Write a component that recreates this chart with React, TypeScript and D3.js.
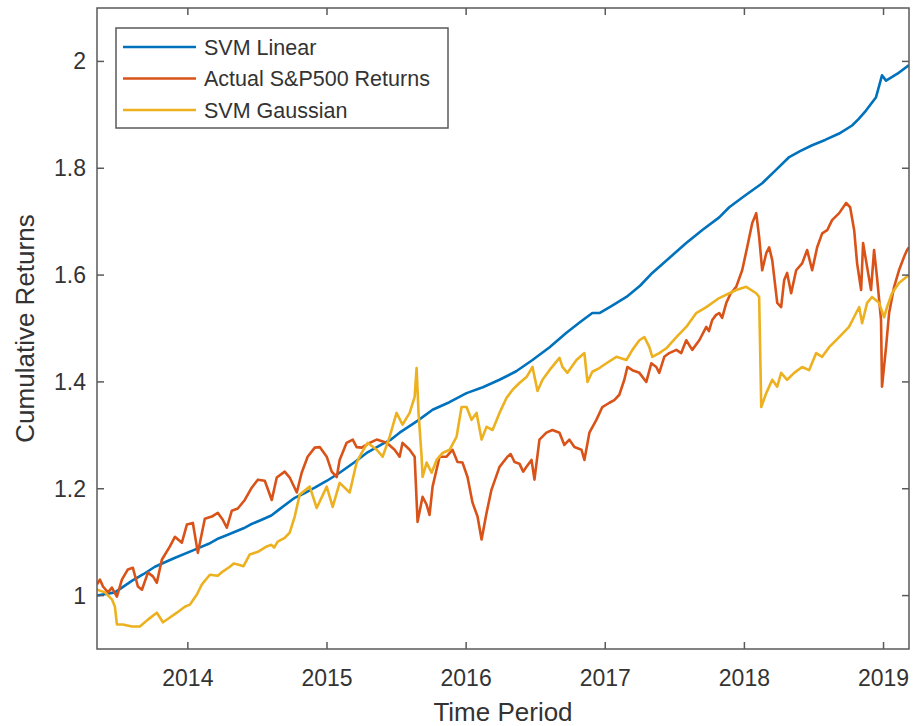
import React from "react";
import * as d3 from "d3";

// Series as [decimal year, cumulative return]
const SVM_LINEAR: [number, number][] = [
  [2013.347, 1.0], [2013.476, 1.006], [2013.6, 1.028], [2013.68, 1.04], [2013.763, 1.054], [2013.9, 1.07],
  [2014.05, 1.086], [2014.15, 1.097], [2014.22, 1.107], [2014.287, 1.114], [2014.4, 1.126], [2014.45, 1.133],
  [2014.531, 1.142], [2014.6, 1.15], [2014.65, 1.16], [2014.768, 1.183], [2014.84, 1.192], [2014.912, 1.202], [2015.0, 1.215],
  [2015.091, 1.23], [2015.2, 1.25], [2015.285, 1.267], [2015.4, 1.284], [2015.46, 1.292], [2015.522, 1.305],
  [2015.65, 1.327], [2015.759, 1.348], [2015.88, 1.362], [2016.003, 1.379], [2016.12, 1.39],
  [2016.24, 1.404], [2016.36, 1.42], [2016.477, 1.441], [2016.6, 1.465], [2016.721, 1.492],
  [2016.82, 1.512], [2016.907, 1.529], [2016.958, 1.529], [2017.05, 1.543], [2017.152, 1.559],
  [2017.25, 1.58], [2017.338, 1.604], [2017.46, 1.632], [2017.582, 1.66], [2017.7, 1.685],
  [2017.819, 1.708], [2017.891, 1.727], [2018.0, 1.748], [2018.128, 1.772], [2018.22, 1.795],
  [2018.322, 1.821], [2018.4, 1.832], [2018.487, 1.843], [2018.58, 1.853], [2018.681, 1.865],
  [2018.774, 1.88], [2018.82, 1.892], [2018.874, 1.908], [2018.946, 1.933], [2018.989, 1.974],
  [2019.018, 1.964], [2019.1, 1.977], [2019.183, 1.993],
];

const SP500_ACTUAL: [number, number][] = [
  [2013.347, 1.021], [2013.368, 1.03], [2013.39, 1.017], [2013.426, 1.006], [2013.454, 1.015],
  [2013.49, 0.998], [2013.526, 1.03], [2013.569, 1.049], [2013.605, 1.052], [2013.641, 1.017],
  [2013.67, 1.011], [2013.713, 1.043], [2013.749, 1.036], [2013.777, 1.024], [2013.813, 1.067],
  [2013.871, 1.092], [2013.907, 1.11], [2013.957, 1.099], [2013.993, 1.133], [2014.036, 1.136],
  [2014.072, 1.08], [2014.122, 1.144], [2014.172, 1.148], [2014.215, 1.155], [2014.251, 1.142],
  [2014.28, 1.127], [2014.316, 1.159], [2014.359, 1.163], [2014.409, 1.179], [2014.459, 1.202],
  [2014.503, 1.217], [2014.553, 1.215], [2014.603, 1.179], [2014.639, 1.221], [2014.696, 1.232],
  [2014.732, 1.221], [2014.783, 1.193], [2014.818, 1.23], [2014.861, 1.26], [2014.912, 1.277],
  [2014.948, 1.278], [2014.998, 1.26], [2015.034, 1.232], [2015.07, 1.222], [2015.091, 1.254],
  [2015.141, 1.286], [2015.185, 1.292], [2015.213, 1.278], [2015.249, 1.277], [2015.307, 1.286],
  [2015.357, 1.292], [2015.429, 1.286], [2015.486, 1.273], [2015.522, 1.26], [2015.543, 1.286],
  [2015.594, 1.273], [2015.63, 1.26], [2015.651, 1.138], [2015.687, 1.185], [2015.716, 1.17],
  [2015.737, 1.151], [2015.759, 1.204], [2015.809, 1.26], [2015.859, 1.26], [2015.902, 1.273],
  [2015.938, 1.25], [2015.974, 1.249], [2016.01, 1.222], [2016.046, 1.174], [2016.082, 1.148],
  [2016.111, 1.105], [2016.147, 1.155], [2016.182, 1.198], [2016.24, 1.241], [2016.297, 1.26],
  [2016.32, 1.265], [2016.348, 1.25], [2016.383, 1.247], [2016.41, 1.232], [2016.434, 1.241], [2016.47, 1.254], [2016.491, 1.217],
  [2016.527, 1.292], [2016.577, 1.305], [2016.62, 1.31], [2016.671, 1.305], [2016.706, 1.282],
  [2016.742, 1.292], [2016.778, 1.278], [2016.829, 1.273], [2016.85, 1.254], [2016.886, 1.305],
  [2016.936, 1.329], [2016.979, 1.353], [2017.03, 1.361], [2017.065, 1.366], [2017.101, 1.376],
  [2017.137, 1.404], [2017.159, 1.428], [2017.195, 1.422], [2017.245, 1.417], [2017.295, 1.4],
  [2017.331, 1.435], [2017.367, 1.428], [2017.388, 1.417], [2017.424, 1.447], [2017.46, 1.454],
  [2017.511, 1.46], [2017.546, 1.454], [2017.582, 1.478], [2017.625, 1.46], [2017.676, 1.478],
  [2017.726, 1.503], [2017.745, 1.495], [2017.769, 1.516], [2017.795, 1.525], [2017.819, 1.529], [2017.84, 1.52],
  [2017.87, 1.548], [2017.9, 1.565], [2017.941, 1.578],
  [2017.984, 1.609], [2018.02, 1.652], [2018.056, 1.697], [2018.085, 1.716], [2018.106, 1.671],
  [2018.128, 1.609], [2018.157, 1.641], [2018.178, 1.652], [2018.2, 1.628], [2018.236, 1.548],
  [2018.264, 1.54], [2018.286, 1.591], [2018.307, 1.604], [2018.336, 1.566], [2018.372, 1.609],
  [2018.415, 1.622], [2018.451, 1.647], [2018.487, 1.609], [2018.523, 1.652], [2018.559, 1.678],
  [2018.595, 1.684], [2018.63, 1.703], [2018.681, 1.716], [2018.731, 1.735], [2018.76, 1.727],
  [2018.789, 1.684], [2018.81, 1.622], [2018.839, 1.572], [2018.853, 1.66], [2018.882, 1.615],
  [2018.91, 1.572], [2018.932, 1.647], [2018.953, 1.596], [2018.982, 1.516], [2018.989, 1.391],
  [2019.018, 1.465], [2019.04, 1.529], [2019.076, 1.578], [2019.111, 1.609], [2019.147, 1.634],
  [2019.169, 1.647], [2019.183, 1.652],
];

const SVM_GAUSSIAN: [number, number][] = [
  [2013.347, 1.011], [2013.404, 1.006], [2013.454, 0.993], [2013.476, 0.979], [2013.49, 0.946],
  [2013.533, 0.946], [2013.598, 0.942], [2013.655, 0.942], [2013.713, 0.955], [2013.777, 0.968],
  [2013.821, 0.95], [2013.871, 0.959], [2013.921, 0.968], [2013.978, 0.979], [2014.014, 0.983],
  [2014.065, 1.002], [2014.101, 1.021], [2014.158, 1.039], [2014.215, 1.037], [2014.25, 1.045],
  [2014.302, 1.054], [2014.33, 1.06], [2014.359, 1.058], [2014.4, 1.055], [2014.445, 1.077],
  [2014.503, 1.082], [2014.567, 1.092], [2014.6, 1.095], [2014.62, 1.09], [2014.646, 1.101],
  [2014.696, 1.108], [2014.732, 1.118], [2014.768, 1.148], [2014.804, 1.189], [2014.876, 1.204],
  [2014.926, 1.164], [2014.998, 1.204], [2015.041, 1.166], [2015.091, 1.211], [2015.163, 1.193],
  [2015.213, 1.249], [2015.249, 1.267], [2015.292, 1.286], [2015.357, 1.273], [2015.4, 1.26],
  [2015.45, 1.297], [2015.5, 1.342], [2015.543, 1.32], [2015.594, 1.342], [2015.63, 1.372],
  [2015.644, 1.426], [2015.658, 1.342], [2015.68, 1.26], [2015.687, 1.222], [2015.716, 1.249],
  [2015.752, 1.23], [2015.788, 1.254], [2015.831, 1.267], [2015.881, 1.273], [2015.931, 1.297],
  [2015.967, 1.353], [2016.003, 1.353], [2016.039, 1.329], [2016.075, 1.342], [2016.111, 1.292],
  [2016.147, 1.316], [2016.19, 1.31], [2016.24, 1.342], [2016.29, 1.37], [2016.333, 1.385],
  [2016.383, 1.398], [2016.434, 1.409], [2016.477, 1.428], [2016.513, 1.383], [2016.549, 1.404],
  [2016.599, 1.422], [2016.671, 1.445], [2016.692, 1.428], [2016.728, 1.417], [2016.793, 1.441],
  [2016.85, 1.454], [2016.872, 1.4], [2016.907, 1.419], [2016.958, 1.426], [2017.008, 1.435],
  [2017.08, 1.447], [2017.152, 1.441], [2017.195, 1.46], [2017.245, 1.478], [2017.281, 1.484],
  [2017.317, 1.465], [2017.338, 1.447], [2017.388, 1.454], [2017.439, 1.463], [2017.511, 1.484],
  [2017.582, 1.503], [2017.654, 1.529], [2017.726, 1.54], [2017.819, 1.557], [2017.941, 1.572],
  [2018.013, 1.578], [2018.085, 1.566], [2018.106, 1.559], [2018.121, 1.353], [2018.157, 1.379],
  [2018.2, 1.404], [2018.236, 1.391], [2018.264, 1.417], [2018.307, 1.404], [2018.358, 1.417],
  [2018.415, 1.428], [2018.465, 1.422], [2018.516, 1.454], [2018.559, 1.447], [2018.609, 1.465],
  [2018.681, 1.484], [2018.752, 1.503], [2018.803, 1.529], [2018.825, 1.54], [2018.846, 1.51],
  [2018.882, 1.548], [2018.917, 1.559], [2018.968, 1.548], [2019.004, 1.521], [2019.025, 1.54],
  [2019.061, 1.566], [2019.111, 1.585], [2019.162, 1.596], [2019.183, 1.6],
];

const SERIES_NAMES = ["SVM Linear", "Actual S&P500 Returns", "SVM Gaussian"];
const SERIES_COLORS = ["#0072BD", "#D95319", "#EDB120"];
const YEAR_TICKS = [2014, 2015, 2016, 2017, 2018, 2019];
const VALUE_TICKS = [1, 1.2, 1.4, 1.6, 1.8, 2];
const X_DOMAIN = [2013.347, 2019.183];
const Y_DOMAIN = [0.9, 2.1];

const W = 917;
const H = 726;
const M = { left: 97, right: 8, top: 8, bottom: 77 };
const FONT = "'Liberation Sans', Arial, Helvetica, sans-serif";
const AXIS_COLOR = "#5a5a5a";
const TEXT_COLOR = "#333333";

export default function App() {
  const x = d3.scaleLinear().domain(X_DOMAIN).range([M.left, W - M.right]);
  const y = d3.scaleLinear().domain(Y_DOMAIN).range([H - M.bottom, M.top]);
  const line = d3
    .line<[number, number]>()
    .x((d) => x(d[0]))
    .y((d) => y(d[1]));

  const series = [SVM_LINEAR, SP500_ACTUAL, SVM_GAUSSIAN];
  const x0 = M.left;
  const x1 = W - M.right;
  const y0 = H - M.bottom;
  const y1 = M.top;
  const tickLen = 7;

  const legend = { x: 116, y: 28, w: 332, h: 100, row: 31.5 };

  return (
    <svg
      width={W}
      height={H}
      style={{ position: "absolute", left: 0, top: 0, background: "#fff" }}
      fontFamily={FONT}
    >
      <defs>
        <clipPath id="plot-area">
          <rect x={x0} y={y1} width={x1 - x0} height={y0 - y1} />
        </clipPath>
      </defs>
      <rect x={0} y={0} width={W} height={H} fill="#fff" />

      <g clipPath="url(#plot-area)" fill="none" strokeWidth={2.6} strokeLinejoin="round">
        {series.map((s, i) => (
          <path key={i} d={line(s) ?? ""} stroke={SERIES_COLORS[i]} />
        ))}
      </g>

      {/* axes box with inward ticks */}
      <g stroke={AXIS_COLOR} strokeWidth={1.5} fill="none">
        <rect x={x0} y={y1} width={x1 - x0} height={y0 - y1} />
        {YEAR_TICKS.map((t) => (
          <g key={t}>
            <line x1={x(t)} x2={x(t)} y1={y0} y2={y0 - tickLen} />
            <line x1={x(t)} x2={x(t)} y1={y1} y2={y1 + tickLen} />
          </g>
        ))}
        {VALUE_TICKS.map((v) => (
          <g key={v}>
            <line x1={x0} x2={x0 + tickLen} y1={y(v)} y2={y(v)} />
            <line x1={x1} x2={x1 - tickLen} y1={y(v)} y2={y(v)} />
          </g>
        ))}
      </g>

      <g fill={TEXT_COLOR} fontSize={23}>
        {YEAR_TICKS.map((t) => (
          <text key={t} x={x(t)} y={y0 + 37} textAnchor="middle">
            {t}
          </text>
        ))}
        {VALUE_TICKS.map((v) => (
          <text key={v} x={x0 - 11} y={y(v)} dy="0.35em" textAnchor="end">
            {d3.format("~g")(v)}
          </text>
        ))}
      </g>

      <text
        x={(x0 + x1) / 2}
        y={721}
        textAnchor="middle"
        fontSize={26}
        fill={TEXT_COLOR}
      >
        Time Period
      </text>
      <text
        transform={`translate(34,${(y0 + y1) / 2}) rotate(-90)`}
        textAnchor="middle"
        fontSize={26}
        fill={TEXT_COLOR}
      >
        Cumulative Returns
      </text>

      {/* legend */}
      <g>
        <rect
          x={legend.x}
          y={legend.y}
          width={legend.w}
          height={legend.h}
          fill="#fff"
          stroke={AXIS_COLOR}
          strokeWidth={1.5}
        />
        {SERIES_NAMES.map((name, i) => {
          const cy = legend.y + 19 + i * legend.row;
          return (
            <g key={name}>
              <line
                x1={123}
                x2={196}
                y1={cy}
                y2={cy}
                stroke={SERIES_COLORS[i]}
                strokeWidth={2.6}
              />
              <text x={204} y={cy} dy="0.35em" fontSize={21.5} fill={TEXT_COLOR}>
                {name}
              </text>
            </g>
          );
        })}
      </g>
    </svg>
  );
}
